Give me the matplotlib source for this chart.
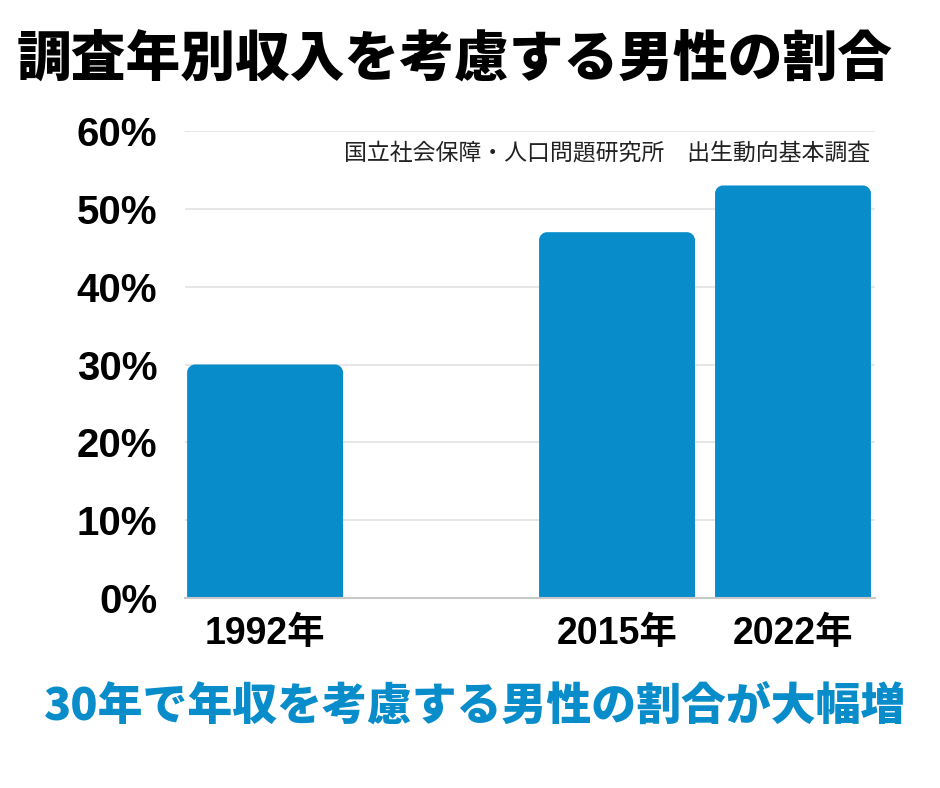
import matplotlib.pyplot as plt
from matplotlib.path import Path
from matplotlib.patches import PathPatch

plt.rcParams['font.family'] = ['Liberation Sans', 'Noto Sans CJK JP']

years = ['1992年', '2015年', '2022年']
slots = [0, 2, 3]          # 1992 sits apart, empty slot between
share = [30.0, 47.0, 53.0]
yticks = [0, 10, 20, 30, 40, 50, 60]

blue = '#088cca'

fig = plt.figure(figsize=(9.4, 7.88), dpi=100)
ax = fig.add_axes([185 / 940, 1 - 598 / 788, 690 / 940, (598 - 131) / 788])

bars = ax.bar(slots, share, width=0.886, color=blue, zorder=3)

# round the top corners of each bar (radius ~8 px)
rx, ry = 8 / 176, 8 / 7.78
k = 0.5523
for b in bars:
    x0, y0 = b.get_x(), b.get_y()
    x1, y1 = x0 + b.get_width(), y0 + b.get_height()
    verts = [(x0, y0), (x0, y1 - ry),
             (x0, y1 - ry + k * ry), (x0 + rx - k * rx, y1), (x0 + rx, y1),
             (x1 - rx, y1),
             (x1 - rx + k * rx, y1), (x1, y1 - ry + k * ry), (x1, y1 - ry),
             (x1, y0), (x0, y0)]
    codes = [Path.MOVETO, Path.LINETO,
             Path.CURVE4, Path.CURVE4, Path.CURVE4,
             Path.LINETO,
             Path.CURVE4, Path.CURVE4, Path.CURVE4,
             Path.LINETO, Path.CLOSEPOLY]
    ax.add_patch(PathPatch(Path(verts, codes), facecolor=blue, edgecolor='none', zorder=3))
    b.set_visible(False)

ax.set_xlim(-0.455, 3.466)
ax.set_ylim(0, 60)
ax.set_yticks(yticks)
ax.set_yticklabels([f'{v}%' for v in yticks], fontsize=29, fontweight='bold')
ax.set_xticks(slots)
ax.set_xticklabels(years, fontsize=27, fontweight='bold')
ax.tick_params(axis='y', length=0, pad=20)
ax.tick_params(axis='x', length=0, pad=13)
ax.yaxis.grid(True, color='#e2e2e2', linewidth=1.2, zorder=0)
for s in ['top', 'right', 'left']:
    ax.spines[s].set_visible(False)
ax.spines['bottom'].set_color('#c8c8c8')
ax.spines['bottom'].set_linewidth(1.5)
ax.spines['bottom'].set_zorder(4)

fig.text(455 / 940, 1 - 60 / 788, '調査年別収入を考慮する男性の割合',
         family=['Noto Sans CJK JP'], fontweight='black', fontsize=39.4,
         ha='center', va='center', color='black')
fig.text(870 / 940, 1 - 154 / 788, '国立社会保障・人口問題研究所　出生動向基本調査',
         family=['Noto Sans CJK JP'], fontsize=16.5, ha='right', va='center', color='#222222')
fig.text(475 / 940, 1 - 706 / 788, '30年で年収を考慮する男性の割合が大幅増',
         family=['Noto Sans CJK JP'], fontweight='black', fontsize=32.3,
         ha='center', va='center', color=blue)

fig.savefig('out.png', dpi=100)
